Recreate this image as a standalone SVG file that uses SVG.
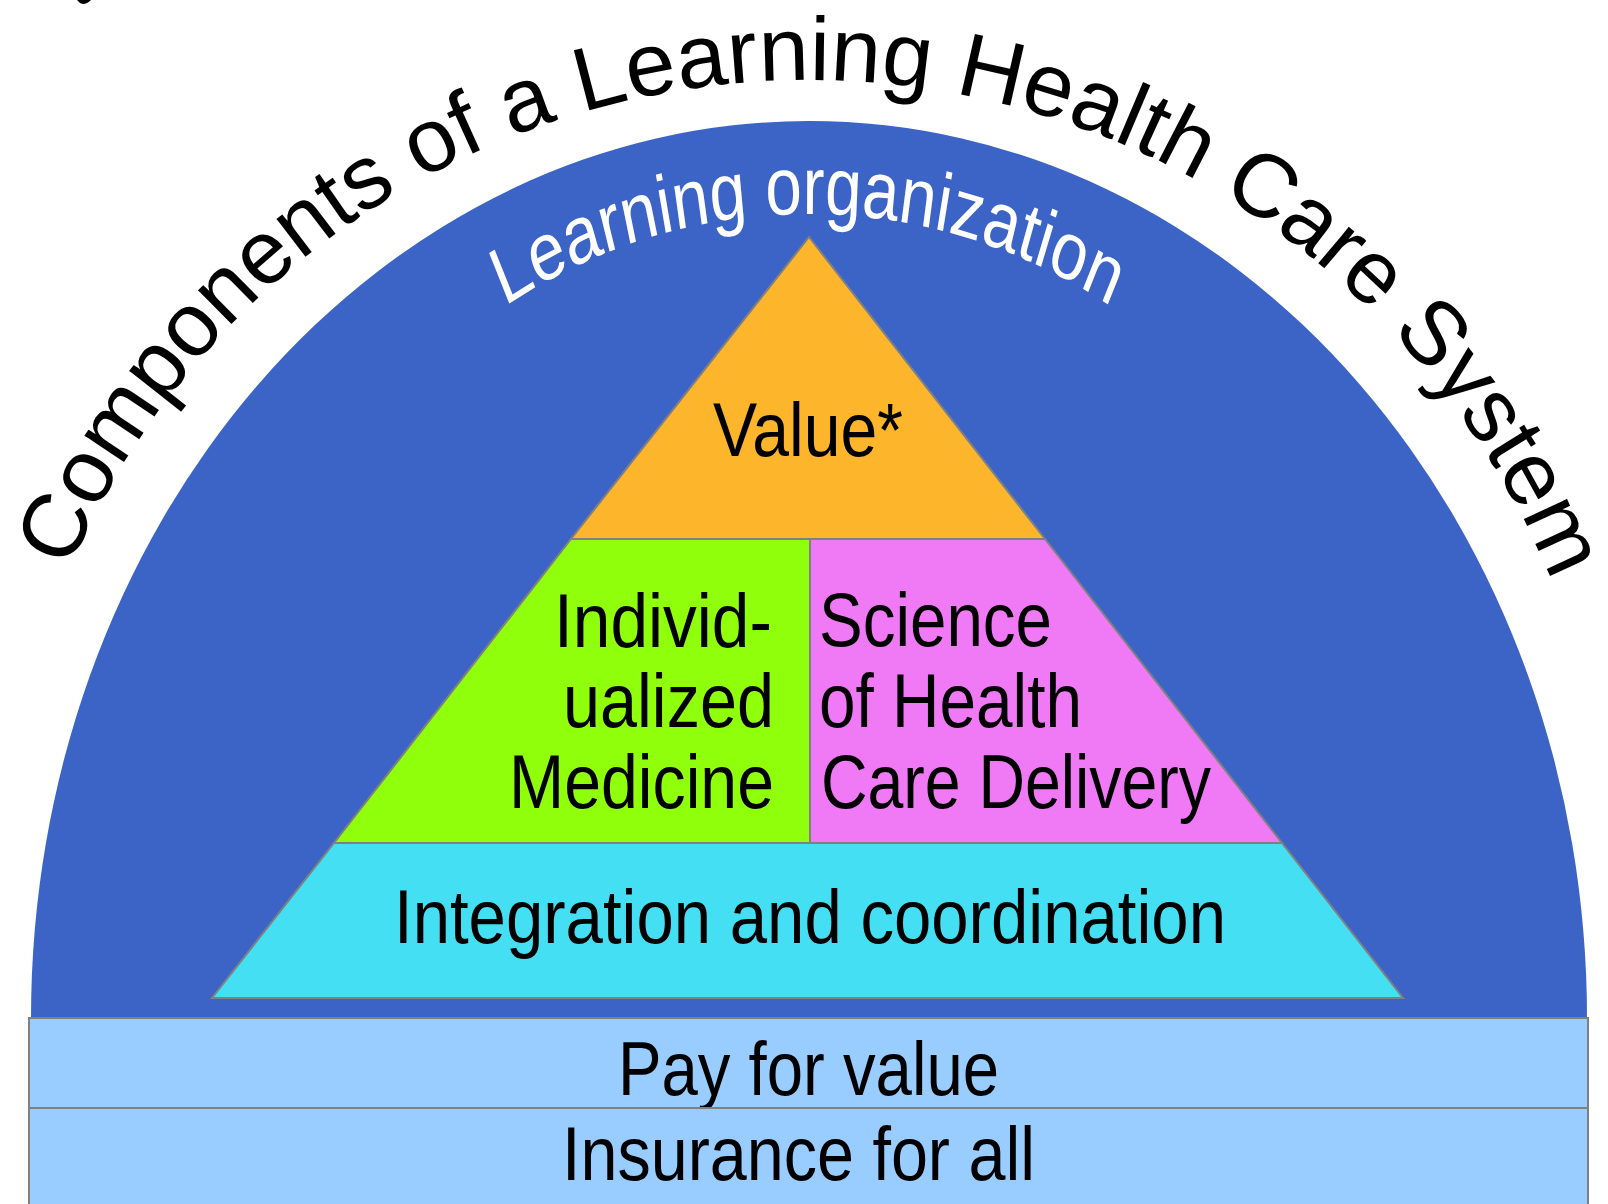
<svg xmlns="http://www.w3.org/2000/svg" width="1608" height="1204" viewBox="0 0 1608 1204">
  <defs>
    <style>
      .edge { stroke: #808080; stroke-width: 2; stroke-linejoin: miter; }
      .lbl { font-family: "Liberation Sans", Arial, sans-serif; font-size: 76px; fill: #000000; }
      .title { font-family: "Liberation Sans", Arial, sans-serif; font-size: 90px; fill: #000000; }
      .arch { font-family: "Liberation Sans", Arial, sans-serif; font-size: 82px; fill: #FFFFFF; }
    </style>
    <path id="titlePath" d="M 6,882 A 802,802 0 0 1 1610,882"/>
    <path id="archPath" d="M 332.5,756 A 677.5,542 0 0 1 1687.5,756"/>
  </defs>

  <rect x="0" y="0" width="1608" height="1204" fill="#FFFFFF"/>
  <path d="M 77,0 L 91,0 Q 87,4 83,4 Q 79,3 77,0 Z" fill="#000000"/>

  <g id="learning-organization">
    <path d="M 31,1018 A 778,897 0 0 1 1587,1018 Z" fill="#3B64C6"/>
    <g transform="scale(0.8,1)">
      <text class="arch"><textPath href="#archPath" startOffset="50%" text-anchor="middle">Learning organization</textPath></text>
    </g>
  </g>

  <g id="title">
    <text class="title"><textPath href="#titlePath" startOffset="1266" text-anchor="middle">Components of a Learning Health Care System</textPath></text>
  </g>

  <g id="value">
    <polygon class="edge" points="809,237 1045,539 571,539" fill="#FDB52B"/>
    <text class="lbl" x="713" y="456" textLength="190" lengthAdjust="spacingAndGlyphs">Value*</text>
  </g>

  <g id="individualized-medicine">
    <polygon class="edge" points="571,539 810,539 810,843 334,843" fill="#90FF0C"/>
    <text class="lbl" x="554" y="647" textLength="218" lengthAdjust="spacingAndGlyphs">Individ-</text>
    <text class="lbl" x="563" y="727" textLength="211" lengthAdjust="spacingAndGlyphs">ualized</text>
    <text class="lbl" x="509" y="808" textLength="265" lengthAdjust="spacingAndGlyphs">Medicine</text>
  </g>

  <g id="science-of-health-care-delivery">
    <polygon class="edge" points="810,539 1045,539 1282,843 810,843" fill="#F07AF5"/>
    <text class="lbl" x="819" y="646" textLength="233" lengthAdjust="spacingAndGlyphs">Science</text>
    <text class="lbl" x="819" y="727" textLength="263" lengthAdjust="spacingAndGlyphs">of Health</text>
    <text class="lbl" x="821" y="808" textLength="390" lengthAdjust="spacingAndGlyphs">Care Delivery</text>
  </g>

  <g id="integration-and-coordination">
    <polygon class="edge" points="334,843 1282,843 1403,998 212,998" fill="#45DFF3"/>
    <text class="lbl" x="394" y="943" textLength="832" lengthAdjust="spacingAndGlyphs">Integration and coordination</text>
  </g>

  <g id="pay-for-value">
    <rect class="edge" x="29" y="1018" width="1559" height="90" fill="#99CCFF"/>
    <text class="lbl" x="618" y="1095" textLength="381" lengthAdjust="spacingAndGlyphs">Pay for value</text>
  </g>

  <g id="insurance-for-all">
    <rect class="edge" x="29" y="1108" width="1559" height="100" fill="#99CCFF"/>
    <text class="lbl" x="562" y="1180" textLength="473" lengthAdjust="spacingAndGlyphs">Insurance for all</text>
  </g>

  <g id="connectors"></g>
</svg>
